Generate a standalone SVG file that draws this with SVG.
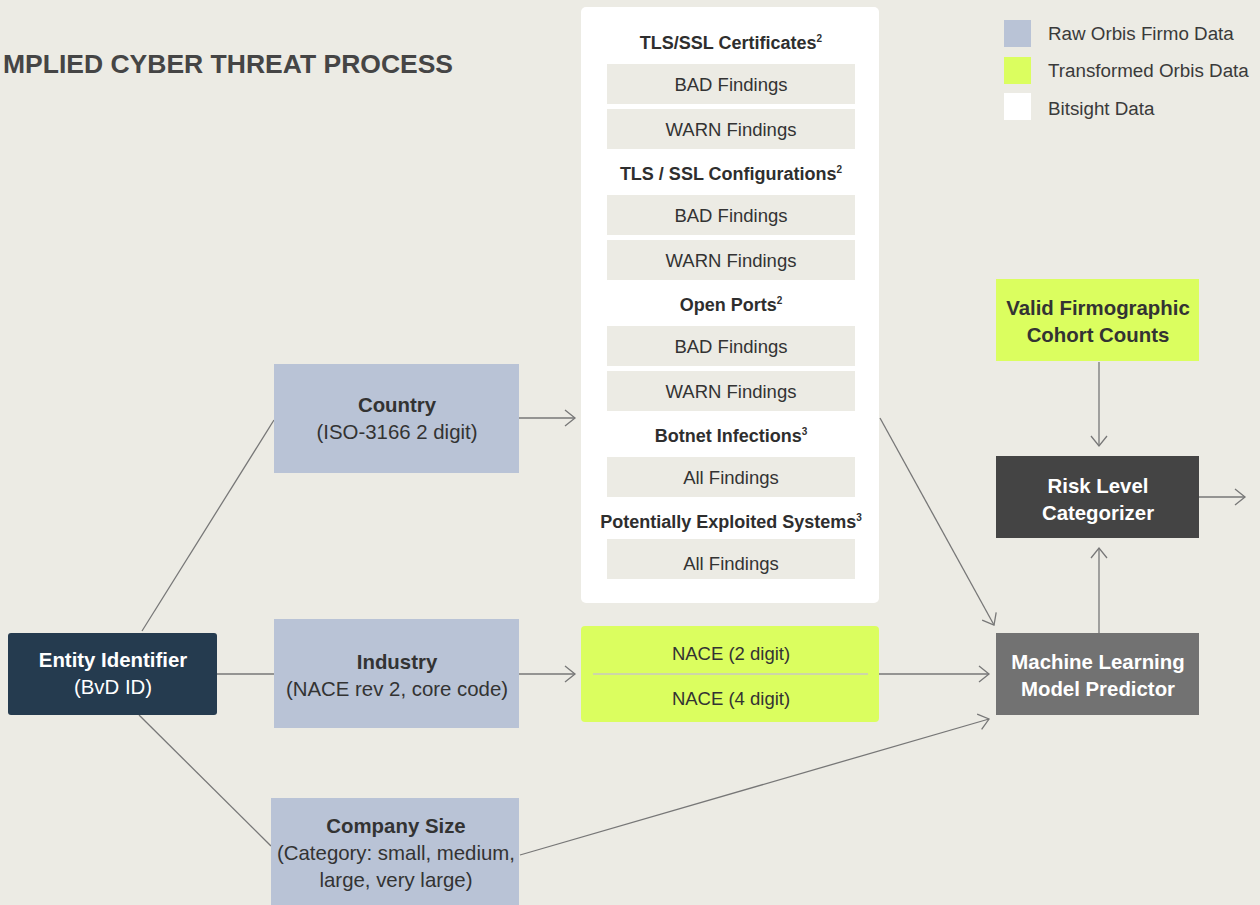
<svg xmlns="http://www.w3.org/2000/svg" width="1260" height="905" viewBox="0 0 1260 905">
<defs>
<style>
text{font-family:"Liberation Sans","Noto Sans",Arial,sans-serif;text-anchor:middle;dominant-baseline:central}
.b{font-weight:bold}
.h{font-size:18px;font-weight:bold;fill:#2e2e2e}
.s{font-size:18.5px;fill:#333}
.n{font-size:20.4px;fill:#333}
.w{fill:#fff}
.raw{fill:#B9C3D6}
.lime{fill:#DBFE5F}
.sub{fill:#ECEBE4}
.c{stroke:#777;stroke-width:1.3;fill:none}
.sup{font-size:10px}
.lg{font-size:18.8px;fill:#3a3a3a;text-anchor:start}
</style>
<marker id="a" markerUnits="userSpaceOnUse" markerWidth="14" markerHeight="18" refX="11" refY="9" orient="auto">
<path d="M1,1 L11,9 L1,17" fill="none" stroke="#777" stroke-width="1.3"/>
</marker>
</defs>
<rect width="1260" height="905" fill="#ECEBE4"/>
<text x="3" y="64" style="text-anchor:start;font-size:26.5px;font-weight:bold;fill:#454545">MPLIED CYBER THREAT PROCESS</text>

<g id="legend">
<rect x="1004" y="20" width="27" height="27" class="raw"/>
<text x="1048" y="33" class="lg">Raw Orbis Firmo Data</text>
<rect x="1004" y="57" width="27" height="27" class="lime"/>
<text x="1048" y="70" class="lg">Transformed Orbis Data</text>
<rect x="1004" y="93" width="27" height="27" fill="#fff"/>
<text x="1048" y="108" class="lg">Bitsight Data</text>
</g>

<g id="connectors">
<line x1="142" y1="631" x2="274" y2="420" class="c"/>
<line x1="217" y1="674" x2="274" y2="674" class="c"/>
<line x1="139" y1="715" x2="271" y2="846" class="c"/>
<line x1="519" y1="418" x2="575" y2="418" class="c" marker-end="url(#a)"/>
<line x1="519" y1="674" x2="575" y2="674" class="c" marker-end="url(#a)"/>
<line x1="879" y1="674" x2="989" y2="674" class="c" marker-end="url(#a)"/>
<line x1="520" y1="855" x2="989" y2="719" class="c" marker-end="url(#a)"/>
<line x1="880" y1="418" x2="994" y2="625" class="c" marker-end="url(#a)"/>
<line x1="1099" y1="362" x2="1099" y2="446" class="c" marker-end="url(#a)"/>
<line x1="1099" y1="633" x2="1099" y2="548" class="c" marker-end="url(#a)"/>
<line x1="1199" y1="497" x2="1245" y2="497" class="c" marker-end="url(#a)"/>
</g>

<g id="bitsight">
<rect x="581" y="7" width="298" height="596" rx="5" fill="#fff"/>
<text x="731" y="43" class="h">TLS/SSL Certificates<tspan class="sup" dy="-5">2</tspan></text>
<rect x="607" y="64" width="248" height="40" class="sub"/>
<text x="731" y="84" class="s">BAD Findings</text>
<rect x="607" y="109" width="248" height="40" class="sub"/>
<text x="731" y="129" class="s">WARN Findings</text>
<text x="731" y="174" class="h">TLS / SSL Configurations<tspan class="sup" dy="-5">2</tspan></text>
<rect x="607" y="195" width="248" height="40" class="sub"/>
<text x="731" y="215" class="s">BAD Findings</text>
<rect x="607" y="240" width="248" height="40" class="sub"/>
<text x="731" y="260" class="s">WARN Findings</text>
<text x="731" y="305" class="h">Open Ports<tspan class="sup" dy="-5">2</tspan></text>
<rect x="607" y="326" width="248" height="40" class="sub"/>
<text x="731" y="346" class="s">BAD Findings</text>
<rect x="607" y="371" width="248" height="40" class="sub"/>
<text x="731" y="391" class="s">WARN Findings</text>
<text x="731" y="436" class="h">Botnet Infections<tspan class="sup" dy="-5">3</tspan></text>
<rect x="607" y="457" width="248" height="40" class="sub"/>
<text x="731" y="477" class="s">All Findings</text>
<text x="731" y="522" class="h">Potentially Exploited Systems<tspan class="sup" dy="-5">3</tspan></text>
<rect x="607" y="539" width="248" height="40" class="sub"/>
<text x="731" y="563" class="s">All Findings</text>
</g>

<g id="entity">
<rect x="8" y="633" width="209" height="82" rx="3" fill="#253B4F"/>
<text x="113" y="660" class="n b w">Entity Identifier</text>
<text x="113" y="687" class="n w">(BvD ID)</text>
</g>

<g id="country">
<rect x="274" y="364" width="245" height="109" class="raw"/>
<text x="397" y="405" class="n b">Country</text>
<text x="397" y="432" class="n">(ISO-3166 2 digit)</text>
</g>

<g id="industry">
<rect x="274" y="619" width="245" height="109" class="raw"/>
<text x="397" y="662" class="n b">Industry</text>
<text x="397" y="689" class="n">(NACE rev 2, core code)</text>
</g>

<g id="company-size">
<rect x="271" y="798" width="248" height="110" class="raw"/>
<text x="396" y="826" class="n b">Company Size</text>
<text x="396" y="853" class="n">(Category: small, medium,</text>
<text x="396" y="880" class="n">large, very large)</text>
</g>

<g id="nace">
<rect x="581" y="626" width="298" height="96" rx="4" class="lime"/>
<line x1="593" y1="674" x2="868" y2="674" stroke="#C8C8C0" stroke-width="1.3"/>
<text x="731" y="653" class="s">NACE (2 digit)</text>
<text x="731" y="698" class="s">NACE (4 digit)</text>
</g>

<g id="cohort">
<rect x="996" y="279" width="203" height="82" class="lime"/>
<text x="1098" y="308" class="n b">Valid Firmographic</text>
<text x="1098" y="335" class="n b">Cohort Counts</text>
</g>

<g id="risk">
<rect x="996" y="456" width="203" height="82" fill="#444"/>
<text x="1098" y="486" class="n b w">Risk Level</text>
<text x="1098" y="513" class="n b w">Categorizer</text>
</g>

<g id="ml">
<rect x="996" y="633" width="203" height="82" fill="#727272"/>
<text x="1098" y="662" class="n b w">Machine Learning</text>
<text x="1098" y="689" class="n b w">Model Predictor</text>
</g>
</svg>
